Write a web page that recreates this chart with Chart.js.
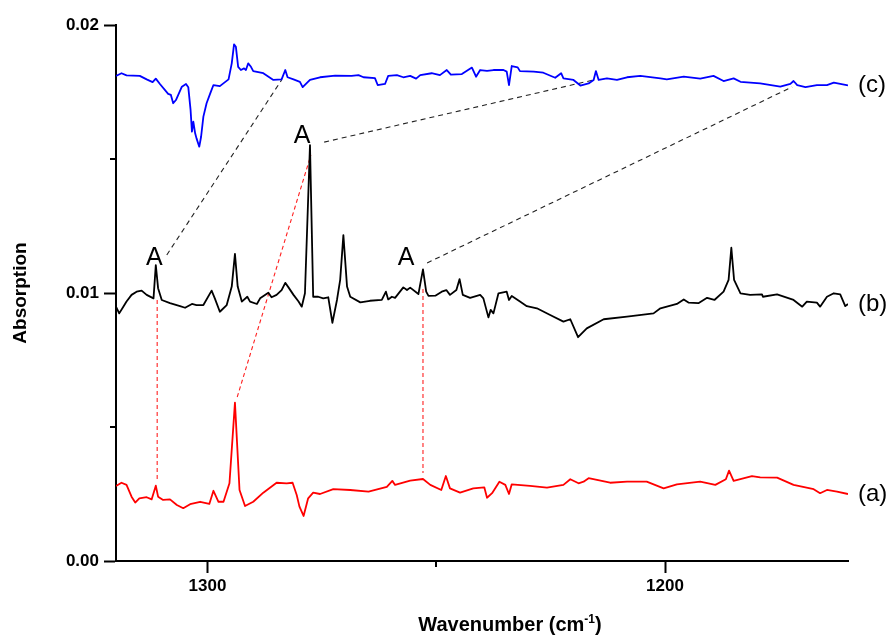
<!DOCTYPE html>
<html lang="en">
<head>
<meta charset="UTF-8" />
<title>Absorption spectra</title>
<script src="https://cdn.jsdelivr.net/npm/chart.js"></script>
<style>
  html, body { margin: 0; padding: 0; background: #fff; }
  #wrap { width: 895px; height: 637px; position: relative; }
</style>
</head>
<body>
<div id="wrap"><canvas id="chart"></canvas></div>
<script>
// spectrum (a) - red
const waveA = [1320.0, 1318.8, 1317.7, 1316.6, 1315.8, 1314.9, 1313.3, 1312.2, 1311.3, 1310.8,
  1309.7, 1308.2, 1306.7, 1305.3, 1303.8, 1301.6, 1299.6, 1298.7, 1297.6, 1296.5,
  1295.2, 1294.0, 1293.0, 1291.8, 1290.0, 1287.8, 1284.9, 1282.7, 1281.4, 1280.5,
  1279.9, 1279.0, 1278.0, 1276.9, 1275.4, 1272.5, 1268.8, 1264.8, 1260.8, 1259.6,
  1259.0, 1255.7, 1252.9, 1251.3, 1248.9, 1247.9, 1247.0, 1244.8, 1241.9, 1239.5,
  1238.9, 1237.8, 1236.2, 1234.9, 1234.1, 1233.5, 1229.5, 1225.8, 1222.2, 1220.7,
  1218.9, 1217.8, 1216.7, 1212.0, 1208.3, 1204.0, 1200.3, 1197.4, 1192.3, 1189.0,
  1186.7, 1186.0, 1185.0, 1181.0, 1179.2, 1175.5, 1171.9, 1167.5, 1166.1, 1164.6,
  1162.4, 1160.0];
const absA = [0.00280, 0.00292, 0.00284, 0.00240, 0.00218, 0.00234, 0.00238, 0.00230, 0.00281, 0.00240,
  0.00228, 0.00230, 0.00209, 0.00197, 0.00212, 0.00221, 0.00213, 0.00262, 0.00221, 0.00221,
  0.00290, 0.00591, 0.00265, 0.00205, 0.00221, 0.00255, 0.00292, 0.00290, 0.00292, 0.00246,
  0.00203, 0.00168, 0.00234, 0.00255, 0.00250, 0.00268, 0.00265, 0.00259, 0.00277, 0.00299,
  0.00284, 0.00300, 0.00306, 0.00284, 0.00265, 0.00317, 0.00271, 0.00255, 0.00271, 0.00275,
  0.00236, 0.00253, 0.00296, 0.00284, 0.00250, 0.00286, 0.00280, 0.00274, 0.00284, 0.00305,
  0.00290, 0.00296, 0.00309, 0.00292, 0.00296, 0.00296, 0.00271, 0.00286, 0.00296, 0.00284,
  0.00305, 0.00337, 0.00299, 0.00317, 0.00312, 0.00311, 0.00284, 0.00268, 0.00253, 0.00265,
  0.00259, 0.00250];

// spectrum (b) - black
const waveB = [1320.0, 1319.3, 1318.4, 1317.7, 1316.6, 1315.5, 1314.4, 1313.3, 1311.8, 1311.3,
  1310.8, 1310.0, 1308.2, 1306.0, 1304.9, 1303.4, 1302.4, 1300.9, 1299.1, 1298.4,
  1297.3, 1295.8, 1294.7, 1294.0, 1293.4, 1292.5, 1291.3, 1290.7, 1289.2, 1288.5,
  1286.7, 1286.0, 1284.9, 1283.8, 1283.0, 1282.3, 1281.2, 1280.1, 1279.4, 1278.7,
  1277.6, 1276.9, 1275.8, 1274.7, 1273.6, 1272.7, 1271.7, 1271.0, 1270.3, 1269.5,
  1268.8, 1266.6, 1264.5, 1261.9, 1261.0, 1260.5, 1259.7, 1259.0, 1257.2, 1256.4,
  1255.7, 1253.9, 1252.9, 1252.2, 1251.7, 1250.2, 1248.8, 1247.8, 1247.0, 1245.6,
  1244.9, 1244.2, 1242.6, 1240.4, 1239.7, 1238.6, 1238.1, 1237.5, 1236.4, 1234.6,
  1234.1, 1233.5, 1231.7, 1230.2, 1228.0, 1225.1, 1222.2, 1220.7, 1219.0, 1217.1,
  1213.4, 1208.3, 1202.5, 1201.0, 1197.4, 1195.9, 1194.8, 1192.7, 1190.8, 1189.2,
  1187.2, 1186.1, 1185.5, 1184.9, 1183.5, 1181.4, 1178.8, 1178.6, 1175.5, 1171.9,
  1170.0, 1169.0, 1166.8, 1166.1, 1164.6, 1163.1, 1161.7, 1160.6, 1160.0];
const absB = [0.00949, 0.00924, 0.00949, 0.00968, 0.00993, 0.01005, 0.01009, 0.00993, 0.00980, 0.01104,
  0.01018, 0.00974, 0.00962, 0.00951, 0.00945, 0.00959, 0.00955, 0.00955, 0.01009, 0.00980,
  0.00930, 0.00955, 0.01024, 0.01146, 0.01024, 0.00968, 0.00986, 0.00968, 0.00959, 0.00980,
  0.01001, 0.00984, 0.00993, 0.01011, 0.01038, 0.01021, 0.00993, 0.00968, 0.00949, 0.00999,
  0.01552, 0.00986, 0.00986, 0.00980, 0.00984, 0.00889, 0.00974, 0.01049, 0.01216, 0.01024,
  0.00986, 0.00965, 0.00971, 0.00974, 0.01005, 0.00976, 0.00986, 0.00982, 0.01021, 0.01011,
  0.01020, 0.00996, 0.01088, 0.01005, 0.00989, 0.00990, 0.01005, 0.01011, 0.00993, 0.01011,
  0.01052, 0.00993, 0.00982, 0.00993, 0.00980, 0.00909, 0.00937, 0.00924, 0.00999, 0.01005,
  0.00974, 0.00989, 0.00968, 0.00951, 0.00943, 0.00918, 0.00893, 0.00902, 0.00835, 0.00868,
  0.00902, 0.00912, 0.00924, 0.00943, 0.00959, 0.00976, 0.00964, 0.00962, 0.00982, 0.00974,
  0.01005, 0.01049, 0.01169, 0.01049, 0.00999, 0.00993, 0.00995, 0.00986, 0.00995, 0.00974,
  0.00949, 0.00968, 0.00964, 0.00949, 0.00986, 0.00999, 0.00995, 0.00951, 0.00959];

// spectrum (c) - blue
const waveC = [1320.0, 1318.8, 1317.7, 1314.8, 1313.3, 1312.0, 1311.3, 1310.4, 1308.6, 1308.0,
  1307.5, 1306.9, 1305.6, 1304.7, 1304.2, 1303.7, 1303.4, 1303.1, 1302.7, 1302.4,
  1301.8, 1301.4, 1300.9, 1300.2, 1299.4, 1298.7, 1297.3, 1295.4, 1294.7, 1294.2,
  1293.8, 1293.3, 1292.7, 1292.0, 1291.6, 1291.1, 1290.5, 1290.0, 1287.8, 1285.6,
  1283.8, 1283.0, 1282.5, 1281.2, 1279.8, 1279.2, 1277.6, 1275.4, 1272.1, 1268.5,
  1267.0, 1265.9, 1263.4, 1262.8, 1261.2, 1260.5, 1258.6, 1257.2, 1255.7, 1254.4,
  1253.5, 1251.0, 1249.2, 1247.7, 1246.8, 1244.4, 1242.2, 1241.3, 1240.4, 1238.9,
  1237.5, 1235.3, 1234.6, 1234.1, 1233.5, 1232.2, 1231.7, 1228.7, 1226.6, 1224.0,
  1222.7, 1222.2, 1220.0, 1218.5, 1216.7, 1215.6, 1215.1, 1214.5, 1212.7, 1210.5,
  1208.3, 1205.4, 1201.0, 1199.6, 1195.9, 1192.3, 1189.4, 1187.2, 1185.0, 1183.5,
  1179.2, 1174.8, 1172.6, 1171.9, 1171.1, 1169.3, 1166.8, 1164.6, 1163.1, 1160.0];
const absC = [0.01810, 0.01820, 0.01812, 0.01810, 0.01797, 0.01787, 0.01800, 0.01780, 0.01743, 0.01739,
  0.01708, 0.01720, 0.01770, 0.01780, 0.01768, 0.01683, 0.01602, 0.01639, 0.01596, 0.01577,
  0.01546, 0.01583, 0.01658, 0.01708, 0.01745, 0.01776, 0.01772, 0.01797, 0.01857, 0.01928,
  0.01919, 0.01844, 0.01832, 0.01838, 0.01832, 0.01857, 0.01844, 0.01828, 0.01820, 0.01795,
  0.01797, 0.01832, 0.01805, 0.01797, 0.01788, 0.01768, 0.01795, 0.01805, 0.01811, 0.01810,
  0.01813, 0.01805, 0.01802, 0.01776, 0.01780, 0.01810, 0.01813, 0.01805, 0.01810, 0.01800,
  0.01813, 0.01820, 0.01813, 0.01832, 0.01815, 0.01817, 0.01841, 0.01807, 0.01832, 0.01829,
  0.01832, 0.01832, 0.01826, 0.01776, 0.01847, 0.01842, 0.01828, 0.01826, 0.01822, 0.01803,
  0.01820, 0.01801, 0.01795, 0.01774, 0.01782, 0.01795, 0.01828, 0.01795, 0.01801, 0.01795,
  0.01805, 0.01810, 0.01801, 0.01797, 0.01807, 0.01800, 0.01810, 0.01791, 0.01801, 0.01788,
  0.01782, 0.01770, 0.01780, 0.01791, 0.01776, 0.01768, 0.01776, 0.01776, 0.01785, 0.01775];

// axis ticks
const xTicks = [1300, 1200];
const xMinorTicks = [1250];
const yTicks = [0, 0.01, 0.02];
const yMinorTicks = [0.005, 0.015];

// dashed connectors between matching peaks: [wave1, abs1, wave2, abs2]
const redLinks = [
  [1311.0, 0.00974, 1311.0, 0.00302],
  [1293.5, 0.00612, 1277.4, 0.01515],
  [1252.9, 0.01015, 1252.9, 0.00328]
];
const blackLinks = [
  [1308.9, 0.01142, 1283.8, 0.01795],
  [1274.5, 0.01563, 1215.6, 0.01795],
  [1252.0, 0.01112, 1172.2, 0.01769]
];

// "A" band labels (baseline centre)
const bandLabelWave = [1311.6, 1279.3, 1256.6];
const bandLabelAbs = [0.01104, 0.01560, 0.01104];

const FONT = '"Liberation Sans", Arial, Helvetica, sans-serif';
Chart.defaults.font.family = FONT;
Chart.defaults.color = '#000';

function toPoints(w, a) {
  return w.map((v, i) => ({ x: v, y: a[i] }));
}

const spectra = [
  { name: '(c)', wave: waveC, abs: absC, color: '#0000ff' },
  { name: '(b)', wave: waveB, abs: absB, color: '#000000' },
  { name: '(a)', wave: waveA, abs: absA, color: '#ff0000' }
];

const datasets = [];
spectra.forEach(s => {
  datasets.push({
    data: toPoints(s.wave, s.abs),
    borderColor: s.color,
    borderWidth: 1.8,
    pointRadius: 0,
    tension: 0,
    borderJoinStyle: 'round'
  });
});
redLinks.forEach(l => {
  datasets.push({
    data: [{ x: l[0], y: l[1] }, { x: l[2], y: l[3] }],
    borderColor: '#ff2020',
    borderWidth: 1.1,
    borderDash: [4, 3],
    pointRadius: 0
  });
});
blackLinks.forEach(l => {
  datasets.push({
    data: [{ x: l[0], y: l[1] }, { x: l[2], y: l[3] }],
    borderColor: '#222',
    borderWidth: 1.1,
    borderDash: [5, 4],
    pointRadius: 0
  });
});

// minor ticks, text annotations and the x title with superscript
const extras = {
  id: 'extras',
  afterDraw(chart) {
    const { ctx, chartArea } = chart;
    const x = chart.scales.x, y = chart.scales.y;
    ctx.save();
    ctx.strokeStyle = '#000';
    ctx.lineWidth = 2;
    yMinorTicks.forEach(v => {
      const py = Math.round(y.getPixelForValue(v));
      ctx.beginPath();
      ctx.moveTo(chartArea.left - 6, py);
      ctx.lineTo(chartArea.left, py);
      ctx.stroke();
    });
    xMinorTicks.forEach(v => {
      const px = Math.round(x.getPixelForValue(v));
      ctx.beginPath();
      ctx.moveTo(px, chartArea.bottom);
      ctx.lineTo(px, chartArea.bottom + 6);
      ctx.stroke();
    });

    ctx.fillStyle = '#000';
    ctx.font = '25px ' + FONT;
    ctx.textAlign = 'center';
    ctx.textBaseline = 'alphabetic';
    bandLabelWave.forEach((w, i) => {
      ctx.fillText('A', x.getPixelForValue(w), y.getPixelForValue(bandLabelAbs[i]));
    });

    ctx.font = '24px ' + FONT;
    ctx.textAlign = 'left';
    ctx.textBaseline = 'middle';
    spectra.forEach(s => {
      ctx.fillText(s.name, chartArea.right + 10, y.getPixelForValue(s.abs[s.abs.length - 1]));
    });

    // x axis title: Wavenumber (cm-1) with superscript
    const main = 'Wavenumber (cm';
    const sup = '-1';
    const tail = ')';
    const bold = 'bold 20px ' + FONT;
    const small = 'bold 12px ' + FONT;
    ctx.font = bold;
    const w1 = ctx.measureText(main).width;
    const w3 = ctx.measureText(tail).width;
    ctx.font = small;
    const w2 = ctx.measureText(sup).width;
    const total = w1 + w2 + w3;
    const cx = (chartArea.left + chartArea.right) / 2 + 28;
    const base = chartArea.bottom + 70;
    let sx = cx - total / 2;
    ctx.textAlign = 'left';
    ctx.textBaseline = 'alphabetic';
    ctx.font = bold;
    ctx.fillText(main, sx, base);
    ctx.font = small;
    ctx.fillText(sup, sx + w1, base - 8);
    ctx.font = bold;
    ctx.fillText(tail, sx + w1 + w2, base);
    ctx.restore();
  }
};

new Chart(document.getElementById('chart'), {
  type: 'line',
  data: { datasets: datasets },
  options: {
    responsive: true,
    maintainAspectRatio: false,
    animation: false,
    layout: { padding: { top: 25, right: 47, left: 0, bottom: 0 } },
    plugins: {
      legend: { display: false },
      tooltip: { enabled: false }
    },
    scales: {
      x: {
        type: 'linear',
        reverse: true,
        min: 1160,
        max: 1320,
        afterBuildTicks: s => { s.ticks = xTicks.map(v => ({ value: v })); },
        afterFit: s => { s.height = 76; },
        border: { display: true, color: '#000', width: 2 },
        grid: { drawOnChartArea: false, drawTicks: true, tickLength: 12, tickWidth: 2, tickColor: '#000', color: '#000' },
        ticks: {
          font: { size: 17, weight: 'bold' },
          color: '#000',
          padding: 3,
          maxRotation: 0,
          callback: v => String(v)
        }
      },
      y: {
        type: 'linear',
        min: 0,
        max: 0.02,
        afterBuildTicks: s => { s.ticks = yTicks.map(v => ({ value: v })); },
        afterFit: s => { s.width = 116; },
        border: { display: true, color: '#000', width: 2 },
        grid: { drawOnChartArea: false, drawTicks: true, tickLength: 12, tickWidth: 2, tickColor: '#000', color: '#000' },
        ticks: {
          font: { size: 17, weight: 'bold' },
          color: '#000',
          padding: 5,
          callback: v => v.toFixed(2)
        },
        title: {
          display: true,
          text: 'Absorption',
          font: { size: 19, weight: 'bold' },
          color: '#000',
          padding: { top: 9, bottom: 0 }
        }
      }
    }
  },
  plugins: [extras]
});
</script>
</body>
</html>
